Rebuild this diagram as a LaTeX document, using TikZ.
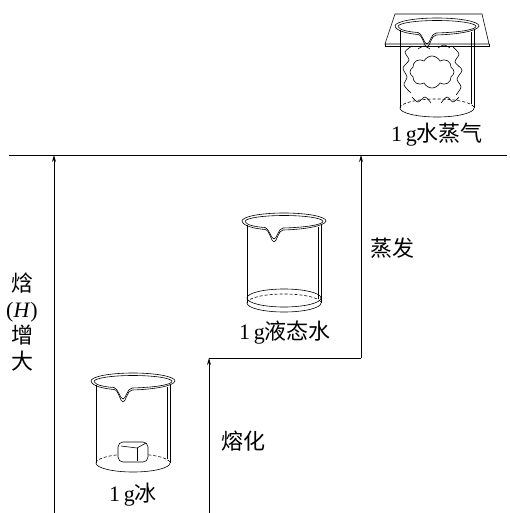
\documentclass[tikz,border=0pt]{standalone}
\usepackage{fontspec}
\setmainfont{Liberation Serif}
\newfontfamily\cjk{Noto Sans CJK SC}
\usetikzlibrary{arrows.meta,shapes.symbols}

\tikzset{
  glass/.style={line width=0.6pt},
  lbl/.style={font=\fontsize{22}{26}\selectfont, inner sep=0pt},
  rise/.style={-{Stealth[length=7pt,width=4pt]}, line width=0.8pt},
  pics/beaker/.style={code={
    \draw[glass] (-42,0) arc[start angle=180, end angle=360, x radius=42, y radius=8];
    \draw[glass] (-39,0.5) arc[start angle=180, end angle=360, x radius=39, y radius=6];
    \draw[glass] (-42,0) .. controls (-41,5) and (-30,7.5) .. (-19,8.5) .. controls (-14,9) and (-13,21) .. (-10,21) .. controls (-7,21) and (-6,9.5) .. (-1,9) .. controls (20,8.5) and (41,5) .. (42,0);
    \draw[glass] (-39,0.5) .. controls (-38,4) and (-28,6) .. (-19,6.5) .. controls (-15,7) and (-13,18) .. (-10,18) .. controls (-7,18) and (-6,7.5) .. (-1,7) .. controls (20,6.5) and (38,4) .. (39,0.5);
    \draw[glass] (-37,4) -- (-37,82);
    \draw[glass] (37,4) -- (37,82);
    \draw[glass] (34,6) -- (34,78);
    \draw[glass] (-37,82) arc[start angle=180, end angle=0, x radius=37, y radius=9];
    \draw[glass, dash pattern=on 3pt off 2pt] (-37,82) arc[start angle=180, end angle=360, x radius=37, y radius=9];
  }}
}

\begin{document}
\begin{tikzpicture}[x=1pt,y=-1pt]
    \useasboundingbox (0,0) rectangle (509,513);
    % steps of the enthalpy
    \coordinate (Hbot) at (54,513);
    \coordinate (Htop) at (54,155);
    \coordinate (lineL) at (9,155);
    \coordinate (lineR) at (507,155);
    \coordinate (meltbot) at (209,513);
    \coordinate (melttop) at (209,358);
    \coordinate (stepR) at (361,358);
    \coordinate (vaptop) at (361,155);
    \draw[line width=0.9pt] (lineL) -- (lineR);
    \draw[rise] (Hbot) -- (Htop);
    \draw[rise] (meltbot) -- (melttop);
    \draw[line width=0.8pt] (melttop) -- (stepR);
    \draw[rise] (stepR) -- (vaptop);
    % ice
    \pic at (133,381) {beaker};
    \draw[glass, fill=white, rounded corners=5pt] (118,442) rectangle (148,462);
    \draw[glass] (121,446) -- (137,448) -- (146,443);
    \draw[glass] (137,448) -- (137,461);
    % liquid water
    \pic at (284,221) {beaker};
    \draw[glass] (284,298) ellipse[x radius=37, y radius=9];
    % water vapour
    \pic at (437,26) {beaker};
    \node[cloud, draw, glass, cloud puffs=8, cloud puff arc=130, aspect=1.3, minimum width=44pt, minimum height=32pt, inner sep=0pt] (steam) at (432,72) {};
    \draw[glass] plot[smooth] coordinates {(412,46) (405,52) (409,60) (403,68) (407,77) (404,85) (411,93)};
    \draw[glass] plot[smooth] coordinates {(453,47) (459,54) (455,62) (462,70) (457,79) (461,87) (456,95)};
    \draw[glass] plot[smooth] coordinates {(418,49) (424,46) (430,49)};
    \draw[glass] plot[smooth] coordinates {(438,48) (444,45) (450,48)};
    \draw[glass] plot[smooth] coordinates {(412,97) (418,102) (425,97) (431,103)};
    \draw[glass] plot[smooth] coordinates {(441,103) (447,97) (453,102) (459,97)};
    \draw[glass] (395,14) -- (482,14) -- (489,44) -- (385,44) -- cycle;
    \draw[glass] (385,44) -- (385,46) -- (489,46) -- (489,44);
    % labels
    \node[lbl] (ice) at (133,495) {1\,g{\cjk 冰}};
    \node[lbl] (liquid) at (285,333) {1\,g{\cjk 液态水}};
    \node[lbl] (vapour) at (437,135) {1\,g{\cjk 水蒸气}};
    \node[lbl] (melt) at (243,441) {\cjk 熔化};
    \node[lbl] (evap) at (392,248) {\cjk 蒸发};
    \node[lbl, align=center] (enth) at (22,322) {{\cjk 焓}\\(\textit{H})\\{\cjk 增}\\{\cjk 大}};
\end{tikzpicture}
\end{document}
